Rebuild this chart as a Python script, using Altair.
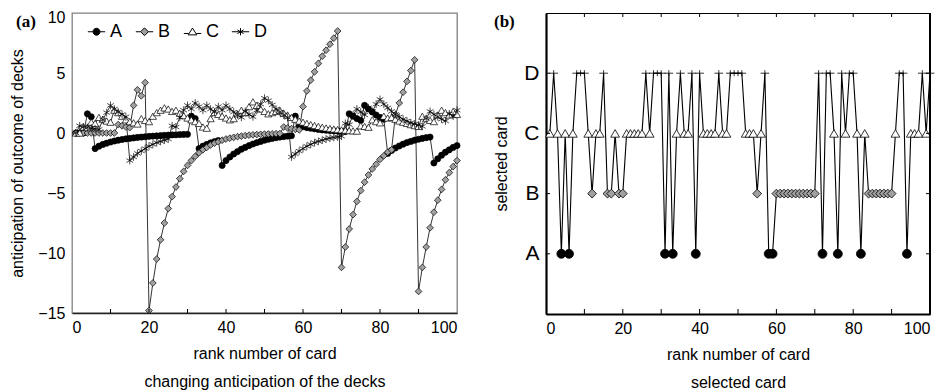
import altair as alt
import pandas as pd

trial = list(range(1, 101))
decks = ["A", "B", "C", "D"]

A_vals = [0.0, 0.0, 0.0, 1.6, 1.35, -1.3, -1.1, -0.95, -0.85, -0.75,
          -0.67, -0.6, -0.54, -0.49, -0.45, -0.41, -0.37, -0.34, -0.31, -0.28,
          -0.26, -0.24, -0.22, -0.2, -0.18, -0.16, -0.15, -0.13, -0.12, -0.11,
          1.4, 1.2, -1.3, -1.1, -0.95, -0.82, -0.72, -0.63, -2.7, -2.3,
          -2.0, -1.75, -1.55, -1.35, -1.2, -1.05, -0.92, -0.8, -0.7, -0.6,
          -0.52, -0.45, -0.39, -0.34, -0.3, -0.26, -0.23, 1.4, 0.6, 0.52,
          0.45, 0.4, 0.35, 0.3, 0.26, 0.23, 0.2, 0.18, 0.16, 0.14,
          0.12, 1.6, 1.4, 1.2, 1.05, 2.3, 2.0, 1.75, 1.5, 1.3,
          1.15, -1.7, -1.45, -1.25, -1.08, -0.93, -0.8, -0.7, -0.6, -0.52,
          -0.45, -0.39, -0.34, -2.5, -2.15, -1.85, -1.6, -1.4, -1.2, -1.05]

B_vals = [0.0, 0.0, 0.0, 0.0, 0.0, 0.0, 0.0, 0.0, 0.0, 0.0,
          0.0, 0.7, 0.6, 0.5, 0.45, 2.3, 3.6, 3.1, 4.2, -14.8,
          -12.5, -10.5, -8.9, -7.5, -6.3, -5.3, -4.5, -3.8, -3.2, -2.7,
          -2.3, -1.95, -1.65, -1.4, -1.2, -1.0, -0.85, -0.72, -0.6, -0.5,
          -0.43, -0.36, -0.3, -0.26, -0.22, -0.18, -0.15, -0.13, -0.11, -0.09,
          -0.08, -0.07, -0.06, -0.05, 0.5, 0.42, 0.36, 0.3, 0.26, 2.2,
          3.5, 4.4, 5.1, 5.8, 6.4, 6.9, 7.4, 7.9, 8.5, -11.2,
          -9.5, -8.0, -6.8, -5.7, -4.8, -4.1, -3.5, -3.0, -2.6, -2.2,
          -1.9, -1.6, -1.4, 1.5, 2.5, 3.4, 4.3, 5.2, 6.1, -13.2,
          -11.2, -9.5, -7.9, -6.6, -5.6, -4.7, -3.9, -3.3, -2.8, -2.3]

C_vals = [0.0, 0.0, 0.5, 0.45, 0.9, 0.8, 1.3, 1.15, 1.0, 0.9,
          1.9, 1.7, 1.4, 1.1, 0.95, 0.85, 0.75, 1.2, 1.05, 0.95,
          1.4, 1.7, 1.9, 2.1, 2.0, 1.8, 1.9, 1.65, 1.45, 1.25,
          1.1, 0.95, 0.8, 0.5, 0.4, 1.2, 1.7, 1.55, 1.4, 1.25,
          1.1, 1.2, 1.6, 1.9, 1.7, 2.2, 2.6, 2.3, 2.0, 1.8,
          1.6, 1.7, 1.8, 1.9, 1.65, 1.5, 1.3, 1.15, 1.0, 0.9,
          0.8, 0.7, 0.62, 0.55, 0.48, 0.42, 0.37, 0.33, 0.29, 0.26,
          0.23, 0.2, 0.18, 0.16, 0.6, 0.55, 0.48, 1.1, 0.95, 0.85,
          1.4, 1.25, 1.3, 1.15, 1.0, 0.9, 0.8, 0.7, 0.62, 0.55,
          1.4, 1.2, 1.05, 0.95, 1.5, 1.9, 1.7, 1.5, 1.8, 1.55]

D_vals = [0.0, 0.6, 0.5, 0.45, 0.4, 0.35, 0.3, 1.1, 1.7, 2.3,
          2.0, 1.75, 1.55, 1.35, -2.3, -2.0, -1.7, -1.5, -1.3, -1.1,
          -0.95, -0.8, -0.7, -0.6, -0.5, 0.6, 0.5, 1.3, 1.9, 2.3,
          2.0, 2.5, 2.2, 1.9, 2.3, 2.0, 1.75, 2.2, 1.9, 2.3,
          2.0, 1.75, 1.5, 1.3, 1.8, 1.55, 1.35, 1.9, 2.4, 2.9,
          2.7, 2.35, 2.0, 1.75, 1.5, 1.3, -2.0, -1.75, -1.5, -1.3,
          -1.1, -0.95, -0.8, -0.7, -0.6, -0.5, -0.43, -0.37, -0.32, -0.27,
          0.8, 0.7, 1.5, 2.0, 1.75, 1.5, 2.1, 1.8, 2.4, 2.8,
          2.4, 2.1, 1.8, 1.55, 1.35, 1.15, 1.0, 0.85, 0.75, 0.65,
          0.55, 1.2, 1.8, 1.55, 1.35, 1.15, 1.0, 1.6, 1.4, 1.9]

choices = ["C", "D", "C", "A", "C", "A", "C", "D", "D", "D",
           "C", "B", "C", "C", "D", "B", "B", "C", "B", "B",
           "C", "C", "C", "C", "C", "D", "C", "D", "D", "D",
           "A", "D", "A", "C", "D", "C", "C", "D", "A", "D",
           "C", "C", "C", "C", "D", "C", "C", "D", "D", "D",
           "D", "C", "C", "C", "B", "C", "D", "A", "A", "B",
           "B", "B", "B", "B", "B", "B", "B", "B", "B", "B",
           "D", "A", "D", "D", "C", "A", "D", "C", "D", "D",
           "C", "A", "C", "B", "B", "B", "B", "B", "B", "B",
           "C", "D", "D", "A", "C", "C", "C", "D", "C", "D"]

x_labels = [0, 20, 40, 60, 80, 100]
x_minor = [10, 20, 30, 40, 50, 60, 70, 80, 90]
y_labels_a = [-15, -10, -5, 0, 5, 10]
card_codes = [1, 2, 3, 4]

FONT = "Liberation Sans"
BLACK = "#000000"
GRAY = "#a0a0a0"

STAR = "M0,-1V1M-0.87,-0.5L0.87,0.5M-0.87,0.5L0.87,-0.5"
PLUS = "M-1,0H1M0,-0.7V0.7"
LEG_A = "M-1,0H-0.4M0.4,0H1M-0.4,0A0.4,0.4,0,1,1,0.4,0A0.4,0.4,0,1,1,-0.4,0Z"
LEG_B = "M-1,0H-0.45M0.45,0H1M0,-0.45L0.45,0L0,0.45L-0.45,0Z"
LEG_C = "M-1,0.2H-0.45M0.45,0.2H1M0,-0.42L0.5,0.36L-0.5,0.36Z"
LEG_D = "M-1,0H1M0,-0.42V0.42M-0.36,-0.21L0.36,0.21M-0.36,0.21L0.36,-0.21"

# ---------------- panel (a) ----------------
df_a = pd.DataFrame({
    "t": trial * 4,
    "v": A_vals + B_vals + C_vals + D_vals,
    "deck": [d for d in decks for _ in trial],
})

xa = alt.X("t:Q", scale=alt.Scale(domain=[0, 100], nice=False),
           axis=alt.Axis(values=x_labels, ticks=False, domain=True, domainColor="#222222",
                         domainWidth=1.5, labelFontSize=16, labelPadding=6, labelFont=FONT,
                         labelColor=BLACK, title=["rank number of card", "changing anticipation of the decks"],
                         titleFont=FONT, titleFontSize=16, titleFontWeight="normal",
                         titleLineHeight=28, titlePadding=10, titleColor=BLACK, grid=False))
ya = alt.Y("v:Q", scale=alt.Scale(domain=[-15, 10], nice=False),
           axis=alt.Axis(values=y_labels_a, ticks=False, domain=False, labelFontSize=16,
                         labelPadding=7, labelFont=FONT, labelColor=BLACK,
                         labelOffset={"condition": {"test": "datum.value == 10", "value": 4}, "value": 0},
                         title="anticipation of outcome of decks", titleFont=FONT,
                         titleFontSize=16, titleFontWeight="normal", titlePadding=12,
                         titleColor=BLACK, grid=False))

base_a = alt.Chart(df_a)
line_a = base_a.mark_line(color=BLACK, strokeWidth=0.8).encode(x=xa, y=ya, detail="deck:N")
pts_a = base_a.mark_point(filled=True, stroke=BLACK, strokeWidth=0.7, opacity=1).encode(
    x="t:Q", y="v:Q",
    shape=alt.Shape("deck:N", scale=alt.Scale(domain=decks, range=["circle", "diamond", "triangle-up", STAR]), legend=None),
    fill=alt.Fill("deck:N", scale=alt.Scale(domain=decks, range=[BLACK, GRAY, "#ffffff", BLACK]), legend=None),
    strokeWidth=alt.StrokeWidth("deck:N", scale=alt.Scale(domain=decks, range=[0.7, 0.7, 0.7, 0.55]), legend=None),
    size=alt.Size("deck:N", scale=alt.Scale(domain=decks, range=[38, 60, 95, 42]), legend=None),
)

leg_kw = dict(orient="none", legendX=15, legendY=9, direction="horizontal",
              title=None, symbolSize=300, labelFontSize=18, labelFont=FONT,
              labelColor=BLACK, columnPadding=10, labelOffset=4, symbolStrokeWidth=1)
leg_a = base_a.transform_filter("datum.v > 1000").mark_point(
    filled=True, strokeWidth=1, opacity=1).encode(
    x="t:Q", y="v:Q",
    shape=alt.Shape("deck:N", scale=alt.Scale(domain=decks, range=[LEG_A, LEG_B, LEG_C, LEG_D]),
                    legend=alt.Legend(**leg_kw)),
    fill=alt.Fill("deck:N", scale=alt.Scale(domain=decks, range=[BLACK, GRAY, "#ffffff", BLACK]),
                  legend=alt.Legend(**leg_kw)),
    stroke=alt.Stroke("deck:N", scale=alt.Scale(domain=decks, range=[BLACK, BLACK, BLACK, BLACK]),
                      legend=alt.Legend(**leg_kw)),
)
ticks_a = alt.Chart(pd.DataFrame({"t": x_minor})).mark_rule(color=BLACK, strokeWidth=1).encode(
    x="t:Q", y=alt.value(300), y2=alt.value(296))
label_a = alt.Chart(pd.DataFrame({"lab": ["(a)"]})).mark_text(
    font="Liberation Serif", fontWeight="bold", fontSize=17, align="left", baseline="middle", color=BLACK
).encode(text="lab:N", x=alt.value(-56), y=alt.value(9))

panel_a = alt.layer(line_a, pts_a, leg_a, ticks_a, label_a).resolve_scale(
    shape="independent", fill="independent", size="independent", stroke="independent",
    strokeWidth="independent"
).properties(width=385, height=300, view=alt.ViewBackground(stroke="#808080", strokeWidth=1.3))

# ---------------- panel (b) ----------------
df_b = pd.DataFrame({"t": trial, "card": choices})
xb = alt.X("t:Q", scale=alt.Scale(domain=[0, 100], nice=False),
           axis=alt.Axis(values=x_labels, ticks=False, domain=True, domainColor=BLACK,
                         domainWidth=2.2, labelFontSize=16, labelPadding=6, labelFont=FONT,
                         labelColor=BLACK, title=["rank number of card", "selected card"],
                         titleFont=FONT, titleFontSize=16, titleFontWeight="normal",
                         titleLineHeight=28, titlePadding=10, titleColor=BLACK, grid=False))
yb = alt.Y("code:Q", scale=alt.Scale(domain=[0, 5], nice=False),
           axis=alt.Axis(values=card_codes, ticks=False, domain=True, domainColor=BLACK,
                         domainWidth=2.2, labelFontSize=21, labelPadding=7, labelFont=FONT,
                         labelColor=BLACK,
                         labelExpr="datum.value == 1 ? 'A' : datum.value == 2 ? 'B' : datum.value == 3 ? 'C' : 'D'",
                         title="selected card", titleFont=FONT, titleFontSize=16,
                         titleFontWeight="normal", titlePadding=14, titleColor=BLACK, grid=False))

base_b = alt.Chart(df_b).transform_calculate(code="indexof(['A','B','C','D'], datum.card) + 1")
line_b = base_b.mark_line(color=BLACK, strokeWidth=1.1).encode(x=xb, y=yb)
pts_b = base_b.mark_point(filled=True, stroke=BLACK, strokeWidth=0.8, opacity=1).encode(
    x="t:Q", y="code:Q",
    shape=alt.Shape("card:N", scale=alt.Scale(domain=decks, range=["circle", "diamond", "triangle-up", PLUS]), legend=None),
    fill=alt.Fill("card:N", scale=alt.Scale(domain=decks, range=[BLACK, GRAY, "#ffffff", BLACK]), legend=None),
    size=alt.Size("card:N", scale=alt.Scale(domain=decks, range=[80, 75, 80, 70]), legend=None),
)
tick_df = pd.DataFrame({"t": x_minor})
top_ticks = alt.Chart(tick_df).mark_rule(color=BLACK, strokeWidth=1).encode(
    x="t:Q", y=alt.value(0), y2=alt.value(4))
bot_ticks = alt.Chart(tick_df).mark_rule(color=BLACK, strokeWidth=1).encode(
    x="t:Q", y=alt.value(301), y2=alt.value(296))
ytick_df = pd.DataFrame({"code": card_codes})
left_ticks = alt.Chart(ytick_df).mark_rule(color=BLACK, strokeWidth=1).encode(
    y="code:Q", x=alt.value(0), x2=alt.value(4))
right_ticks = alt.Chart(ytick_df).mark_rule(color=BLACK, strokeWidth=1).encode(
    y="code:Q", x=alt.value(384), x2=alt.value(380))
right_border = alt.Chart(pd.DataFrame({"k": [0]})).mark_rule(color=BLACK, strokeWidth=2).encode(
    x=alt.value(384), y=alt.value(0), y2=alt.value(301))
label_b = alt.Chart(pd.DataFrame({"lab": ["(b)"]})).mark_text(
    font="Liberation Serif", fontWeight="bold", fontSize=17, align="left", baseline="middle", color=BLACK
).encode(text="lab:N", x=alt.value(-52), y=alt.value(9))

panel_b = alt.layer(line_b, pts_b, top_ticks, bot_ticks, left_ticks, right_ticks, right_border, label_b).properties(
    width=384, height=301, view=alt.ViewBackground(stroke=BLACK, strokeWidth=1))

chart = alt.hconcat(panel_a, panel_b, spacing=89, bounds="flush").properties(
    padding={"left": 1, "top": 0, "right": 0, "bottom": 0}
).configure(font=FONT, background="white")

chart.save("out.html", embed_options={"renderer": "svg", "actions": False})
